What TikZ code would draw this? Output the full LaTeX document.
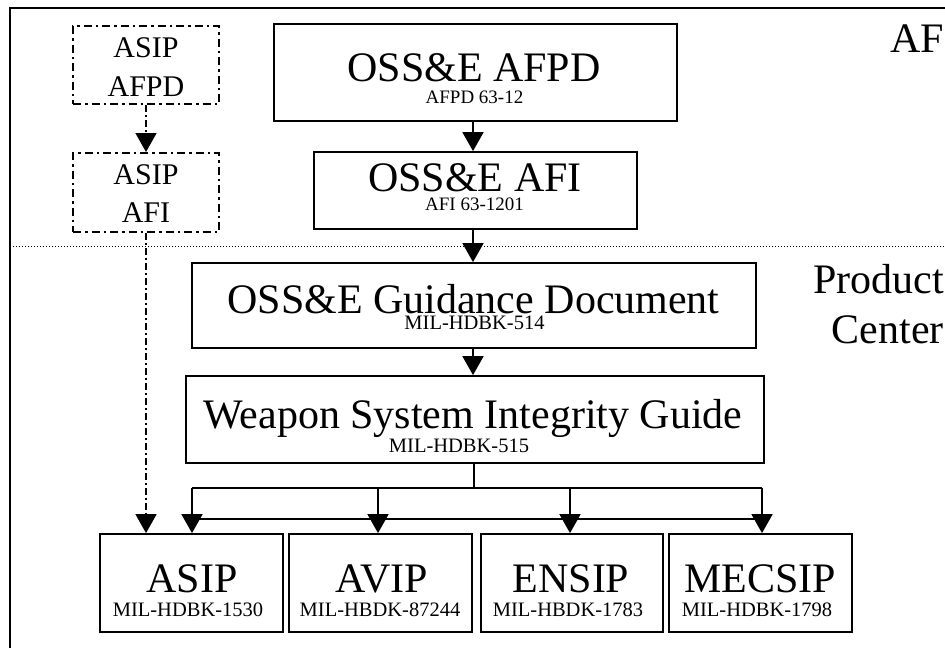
\documentclass[tikz,border=0pt]{standalone}
\usepackage{fontspec}
\setmainfont{Liberation Serif}
\usetikzlibrary{arrows.meta}
\newcommand\fsz[1]{\fontsize{#1}{#1}\selectfont}
\begin{document}
\begin{tikzpicture}[x=1pt,y=-1pt,
  box/.style={draw,line width=1.8pt,rectangle,inner sep=0pt},
  ddbox/.style={draw,line width=2pt,rectangle,inner sep=0pt,dash pattern=on 8pt off 4pt on 2.5pt off 4pt},
  txt/.style={inner sep=0pt,anchor=base},
  big/.style={txt,font=\fsz{42}},
  mid/.style={txt,font=\fsz{30}},
  small/.style={txt,font=\fsz{20.5}},
  tiny/.style={txt,font=\fsz{19}},
  conn/.style={line width=1.8pt},
  arr/.style={conn,-{Triangle[width=21pt,length=19pt]}},
  ddline/.style={line width=1.6pt,dash pattern=on 7pt off 3pt on 2pt off 3pt}]
\useasboundingbox[fill=white] (0,0) rectangle (945,648);
% frame and level divider
\coordinate (fbl) at (10,648);
\coordinate (ftl) at (10,8);
\coordinate (ftr) at (945,8);
\draw[line width=2pt] (fbl) -- (ftl) -- (ftr);
\coordinate (dl) at (10,246.5);
\coordinate (dr) at (945,246.5);
\draw[line width=1.2pt,dash pattern=on 1.2pt off 1.8pt] (dl) -- (dr);
% level labels
\node[big,anchor=base east] (lafl) at (944,52) {AF};
\node[big,anchor=base east] (lpc1) at (944,293) {Product};
\node[big,anchor=base east] (lpc2) at (944,343) {Center};
% ASIP policy boxes
\node[ddbox,minimum width=146pt,minimum height=78pt] (aafpd) at (146,65) {};
\node[mid] (aafpdt1) at (146,57) {ASIP};
\node[mid] (aafpdt2) at (146,96) {AFPD};
\node[ddbox,minimum width=146pt,minimum height=79pt] (aafi) at (146,192.5) {};
\node[mid] (aafit1) at (146,184) {ASIP};
\node[mid] (aafit2) at (146,222) {AFI};
% central column
\node[box,minimum width=403pt,minimum height=97pt] (oafpd) at (475.5,72.5) {};
\node[big] (oafpdt1) at (474,81) {OSS\&E AFPD};
\node[tiny] (oafpdt2) at (474.5,103) {AFPD 63-12};
\node[box,minimum width=323pt,minimum height=77pt] (oafi) at (475.5,190.5) {};
\node[big] (oafit1) at (475,191.5) {OSS\&E AFI};
\node[tiny] (oafit2) at (474.5,210) {AFI 63-1201};
\node[box,minimum width=564pt,minimum height=85pt] (guid) at (474,305.5) {};
\node[big] (guidt1) at (473.5,313) {OSS\&E Guidance Document};
\node[small] (guidt2) at (474.5,329) {MIL-HDBK-514};
\node[box,minimum width=578pt,minimum height=87pt] (wsig) at (475,419.5) {};
\node[big] (wsigt1) at (473,428) {Weapon System Integrity Guide};
\node[small] (wsigt2) at (459,452) {MIL-HDBK-515};
% bottom boxes
\node[box,minimum width=183pt,minimum height=98pt] (asip) at (191.5,583) {};
\node[big] (asipt1) at (192,592) {ASIP};
\node[small] (asipt2) at (188,616) {MIL-HDBK-1530};
\node[box,minimum width=183pt,minimum height=98pt] (avip) at (380.5,583) {};
\node[big] (avipt1) at (382,592) {AVIP};
\node[small] (avipt2) at (380,616) {MIL-HBDK-87244};
\node[box,minimum width=182pt,minimum height=98pt] (ensip) at (572,583) {};
\node[big] (ensipt1) at (571,592) {ENSIP};
\node[small] (ensipt2) at (568,616) {MIL-HBDK-1783};
\node[box,minimum width=183pt,minimum height=98pt] (mecsip) at (760.5,583) {};
\node[big] (mecsipt1) at (760,592) {MECSIP};
\node[small] (mecsipt2) at (757,616) {MIL-HDBK-1798};
% central arrows
\coordinate (cx) at (473,0);
\draw[arr] (oafpd.south -| cx) -- (oafi.north -| cx);
\draw[arr] (oafi.south -| cx) -- (guid.north -| cx);
\draw[arr] (guid.south -| cx) -- (wsig.north -| cx);
% ASIP dash-dot chain
\draw[ddline,-{Triangle[width=21pt,length=19pt]}] (aafpd.south) -- (aafi.north);
\draw[ddline,-{Triangle[width=21pt,length=19pt]}] (aafi.south) -- (aafi.south |- asip.north);
% bus to bottom boxes
\coordinate (bus) at (474,488);
\coordinate (b1) at (192,488);
\coordinate (b2) at (378,488);
\coordinate (b3) at (570,488);
\coordinate (b4) at (762,488);
\coordinate (l1) at (192,519);
\coordinate (l4) at (762,519);
\draw[conn] (wsig.south -| bus) -- (bus);
\draw[conn] (b1) -- (b4);
\draw[conn,line width=1.5pt] (l1) -- (l4);
\draw[arr] (b1) -- (b1 |- asip.north);
\draw[arr] (b2) -- (b2 |- avip.north);
\draw[arr] (b3) -- (b3 |- ensip.north);
\draw[arr] (b4) -- (b4 |- mecsip.north);
\end{tikzpicture}
\end{document}
